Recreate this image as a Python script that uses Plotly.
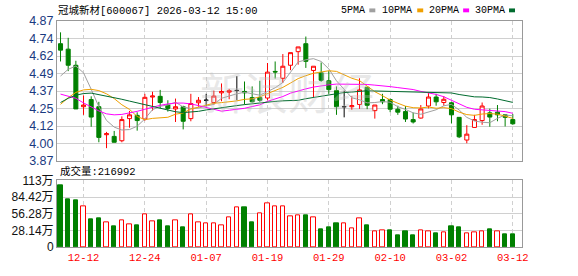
import plotly.graph_objects as go
import pandas as pd
import numpy as np

stock_name = "冠城新材"
stock_code = "600067"
stamp = "2026-03-12 15:00"

dates = ["2025-12-09", "2025-12-10", "2025-12-11", "2025-12-12", "2025-12-15", "2025-12-16",
         "2025-12-17", "2025-12-18", "2025-12-19", "2025-12-22", "2025-12-23", "2025-12-24",
         "2025-12-25", "2025-12-26", "2025-12-29", "2025-12-30", "2025-12-31", "2026-01-05",
         "2026-01-06", "2026-01-07", "2026-01-08", "2026-01-09", "2026-01-12", "2026-01-13",
         "2026-01-14", "2026-01-15", "2026-01-16", "2026-01-19", "2026-01-20", "2026-01-21",
         "2026-01-22", "2026-01-23", "2026-01-26", "2026-01-27", "2026-01-28", "2026-01-29",
         "2026-01-30", "2026-02-02", "2026-02-03", "2026-02-04", "2026-02-05", "2026-02-06",
         "2026-02-09", "2026-02-10", "2026-02-11", "2026-02-12", "2026-02-13", "2026-02-24",
         "2026-02-25", "2026-02-26", "2026-02-27", "2026-03-02", "2026-03-03", "2026-03-04",
         "2026-03-05", "2026-03-06", "2026-03-09", "2026-03-10", "2026-03-11", "2026-03-12"]

opens = [4.708, 4.669, 4.554, 4.258, 4.309, 4.258, 4.058, 4.046, 4.015, 4.173,
         4.196, 4.170, 4.327, 4.332, 4.270, 4.242, 4.258, 4.173, 4.286, 4.304,
         4.288, 4.357, 4.362, 4.374, 4.367, 4.323, 4.323, 4.320, 4.510, 4.461,
         4.554, 4.651, 4.708, 4.517, 4.500, 4.443, 4.373, 4.258, 4.258, 4.274,
         4.397, 4.230, 4.309, 4.309, 4.240, 4.223, 4.166, 4.177, 4.263, 4.327,
         4.288, 4.286, 4.182, 4.020, 4.110, 4.159, 4.214, 4.219, 4.200, 4.166]
highs = [4.789, 4.750, 4.586, 4.339, 4.332, 4.293, 4.078, 4.085, 4.189, 4.228,
         4.218, 4.350, 4.365, 4.378, 4.304, 4.316, 4.265, 4.350, 4.327, 4.350,
         4.373, 4.424, 4.385, 4.477, 4.438, 4.403, 4.443, 4.570, 4.581, 4.634,
         4.644, 4.685, 4.759, 4.547, 4.574, 4.512, 4.403, 4.373, 4.334, 4.461,
         4.397, 4.270, 4.350, 4.316, 4.265, 4.263, 4.216, 4.270, 4.355, 4.350,
         4.334, 4.293, 4.182, 4.126, 4.200, 4.288, 4.244, 4.270, 4.205, 4.205]
lows = [4.581, 4.512, 4.242, 4.200, 4.115, 4.004, 3.962, 4.004, 4.004, 4.108,
        4.087, 4.158, 4.230, 4.247, 4.223, 4.149, 4.096, 4.154, 4.258, 4.263,
        4.272, 4.297, 4.311, 4.304, 4.274, 4.288, 4.293, 4.304, 4.459, 4.427,
        4.519, 4.558, 4.535, 4.327, 4.436, 4.350, 4.200, 4.182, 4.235, 4.242,
        4.240, 4.173, 4.276, 4.219, 4.200, 4.149, 4.138, 4.173, 4.246, 4.265,
        4.265, 4.138, 4.034, 3.997, 4.108, 4.129, 4.115, 4.154, 4.117, 4.129]
closes = [4.662, 4.554, 4.242, 4.270, 4.184, 4.039, 4.065, 4.004, 4.166, 4.200,
          4.159, 4.325, 4.334, 4.288, 4.246, 4.258, 4.154, 4.281, 4.304, 4.304,
          4.334, 4.367, 4.373, 4.374, 4.357, 4.293, 4.304, 4.505, 4.506, 4.547,
          4.644, 4.685, 4.582, 4.547, 4.447, 4.380, 4.258, 4.258, 4.265, 4.378,
          4.268, 4.270, 4.293, 4.240, 4.219, 4.170, 4.149, 4.242, 4.327, 4.293,
          4.311, 4.200, 4.043, 4.062, 4.166, 4.263, 4.184, 4.200, 4.182, 4.136]

volumes = [1049000, 805000, 788000, 685000, 462000, 478000, 408000, 348000, 457000, 381000,
           364000, 555000, 440000, 446000, 348000, 457000, 332000, 555000, 424000, 391000,
           391000, 364000, 506000, 669000, 674000, 413000, 571000, 734000, 685000, 685000,
           525000, 536000, 538000, 506000, 294000, 326000, 391000, 391000, 310000, 484000,
           364000, 261000, 288000, 277000, 201000, 261000, 201000, 288000, 272000, 228000,
           245000, 348000, 326000, 228000, 245000, 272000, 294000, 261000, 212000, 216992]
# 1 = red (up) volume bar, 0 = green (down) volume bar, as shown
vol_up = [0, 0, 0, 1, 0, 0, 1, 0, 1, 1,
          0, 1, 1, 0, 0, 1, 0, 1, 1, 1,
          1, 1, 1, 1, 0, 0, 1, 1, 1, 1,
          1, 1, 0, 1, 0, 0, 0, 1, 1, 1,
          0, 1, 1, 0, 0, 0, 0, 1, 1, 0,
          1, 0, 0, 1, 1, 1, 0, 1, 0, 0]

# moving-average values before enough in-window history exists
ma5_head = [4.477, 4.525, 4.548, 4.500]
ma10_head = [4.275, 4.322, 4.360, 4.378, 4.382, 4.373, 4.350, 4.316, 4.272]
ma20_head = [4.348, 4.335, 4.318, 4.285, 4.255, 4.228, 4.207, 4.200, 4.203, 4.212,
             4.225, 4.240, 4.255, 4.268, 4.278, 4.284, 4.284, 4.278, 4.266]
ma30_head = [4.288, 4.318, 4.340, 4.352, 4.355, 4.345, 4.335, 4.323, 4.311, 4.298,
             4.285, 4.272, 4.258, 4.246, 4.233, 4.222, 4.216, 4.218, 4.225, 4.235,
             4.244, 4.252, 4.259, 4.266, 4.273, 4.280, 4.286, 4.291, 4.296]

date_ticks = ["2025-12-12", "2025-12-24", "2026-01-07", "2026-01-19",
              "2026-01-29", "2026-02-10", "2026-03-02", "2026-03-12"]
price_min, price_max = 3.87, 4.87
price_tick_text = ["3.87", "4.00", "4.12", "4.25", "4.37", "4.49", "4.62", "4.74", "4.87"]
vol_max = 1125600
vol_tick_text = ["0", "28.14万", "56.28万", "84.42万", "113万"]

ma_specs = [("5PMA", 5, ma5_head, "#a0a0a0"),
            ("10PMA", 10, ma10_head, "#f0a000"),
            ("20PMA", 20, ma20_head, "#ff00ff"),
            ("30PMA", 30, ma30_head, "#006b2e")]

RED = "#ff0000"
GREEN = "#008000"
GRID = "#d0d0d0"
BORDER = "#999999"

fig = go.Figure()

df = pd.DataFrame(dict(d=dates, o=opens, h=highs, l=lows, c=closes))
groups = [
    (df[df.c > df.o], RED, "#ffffff", GREEN, GREEN),
    (df[df.c < df.o], RED, "#ffffff", GREEN, GREEN),
    (df[df.c == df.o], "#000000", "#000000", "#000000", "#000000"),
]
for g, inc_line, inc_fill, dec_line, dec_fill in groups:
    if len(g) == 0:
        continue
    fig.add_trace(go.Candlestick(
        x=g.d, open=g.o, high=g.h, low=g.l, close=g.c,
        increasing=dict(line=dict(color=inc_line, width=1), fillcolor=inc_fill),
        decreasing=dict(line=dict(color=dec_line, width=1), fillcolor=dec_fill),
        whiskerwidth=0, showlegend=False, hoverinfo="skip",
        xaxis="x", yaxis="y"))

close_s = pd.Series(closes)
for name, n, head, color in ma_specs:
    rolled = close_s.rolling(n).mean().tolist()
    vals = list(head) + rolled[len(head):]
    fig.add_trace(go.Scatter(x=dates, y=vals, mode="lines", name=name,
                             line=dict(color=color, width=1), showlegend=False,
                             hoverinfo="skip", xaxis="x", yaxis="y"))

fig.add_trace(go.Bar(
    x=dates, y=volumes, width=0.56,
    marker=dict(color=["#ffffff" if u else GREEN for u in vol_up],
                line=dict(color=[RED if u else GREEN for u in vol_up], width=1)),
    showlegend=False, hoverinfo="skip", xaxis="x2", yaxis="y2"))

W, H = 578, 276
ml, mr, mt, mb = 56, 56, 21, 21
ph = H - mt - mb
pw = W - ml - mr


def py(pix):
    return (H - mb - pix) / ph


def px(pix):
    return (pix - ml) / pw


mono = "Liberation Mono, Noto Sans CJK SC"
sans = "Liberation Sans, Noto Sans CJK SC"

xcommon = dict(type="category", categoryorder="array", categoryarray=dates,
               range=[-0.46, 60.2], tickvals=date_ticks,
               showgrid=True, gridcolor=GRID, gridwidth=1, griddash="4px,3px",
               showline=True, mirror=True, linecolor=BORDER, linewidth=1,
               ticks="", zeroline=False, fixedrange=True)

fig.update_layout(
    width=W, height=H, margin=dict(l=ml, r=mr, t=mt, b=mb, pad=0),
    paper_bgcolor="white", plot_bgcolor="white",
    showlegend=False, boxgap=0.25, bargap=0,
    font=dict(family=sans, size=12, color="#000"),
    xaxis=dict(**xcommon, domain=[0, 1], anchor="y", showticklabels=False,
               rangeslider=dict(visible=False)),
    xaxis2=dict(**xcommon, domain=[0, 1], anchor="y2", matches="x",
                ticktext=[d[5:] for d in date_ticks], showticklabels=True,
                tickfont=dict(family=mono, size=10.5, color=RED)),
    yaxis=dict(domain=[py(166), 1], range=[price_min, price_max],
               tickvals=list(np.linspace(price_min, price_max, len(price_tick_text))),
               ticktext=price_tick_text,
               tickfont=dict(family=sans, size=12.5, color="#1a3a80"),
               showgrid=True, gridcolor=GRID, gridwidth=1,
               showline=True, mirror=True, linecolor=BORDER, linewidth=1,
               ticks="", zeroline=False, fixedrange=True),
    yaxis2=dict(domain=[0, py(186)], range=[0, vol_max],
                tickvals=list(np.linspace(0, vol_max, len(vol_tick_text))),
                ticktext=vol_tick_text,
                tickfont=dict(family=sans, size=12, color="#111"),
                showgrid=True, gridcolor=GRID, gridwidth=1,
                showline=True, mirror=True, linecolor=BORDER, linewidth=1,
                ticks="", zeroline=False, fixedrange=True),
)

ann = []
ann.append(dict(text="新浪财经", xref="paper", yref="paper", x=px(287), y=py(93),
                xanchor="center", yanchor="middle", showarrow=False,
                font=dict(family="Noto Sans CJK SC", size=44, color="rgba(190,190,190,0.35)")))
ann.append(dict(text=f"{stock_name}[{stock_code}] {stamp}", xref="paper", yref="paper",
                x=px(55), y=py(10), xanchor="left", yanchor="middle", showarrow=False,
                font=dict(family=mono, size=10.5, color="#000")))
ann.append(dict(text=f"成交量:{volumes[-1]}", xref="paper", yref="paper",
                x=px(57), y=py(177), xanchor="left", yanchor="middle", showarrow=False,
                font=dict(family=mono, size=10.5, color="#000")))

legend_x = [339, 380, 427, 473]
square_x = [369, 417, 463, 509]
shapes = []
for (name, n, head, color), lx, sx in zip(ma_specs, legend_x, square_x):
    ann.append(dict(text=name, xref="paper", yref="paper", x=px(lx), y=py(10),
                    xanchor="left", yanchor="middle", showarrow=False,
                    font=dict(family=mono, size=10, color="#000")))
    shapes.append(dict(type="rect", xref="paper", yref="paper",
                       x0=px(sx), x1=px(sx + 6), y0=py(12), y1=py(8),
                       fillcolor=color, line=dict(width=0)))

fig.update_layout(annotations=ann, shapes=shapes)

fig.write_html("out.html")
